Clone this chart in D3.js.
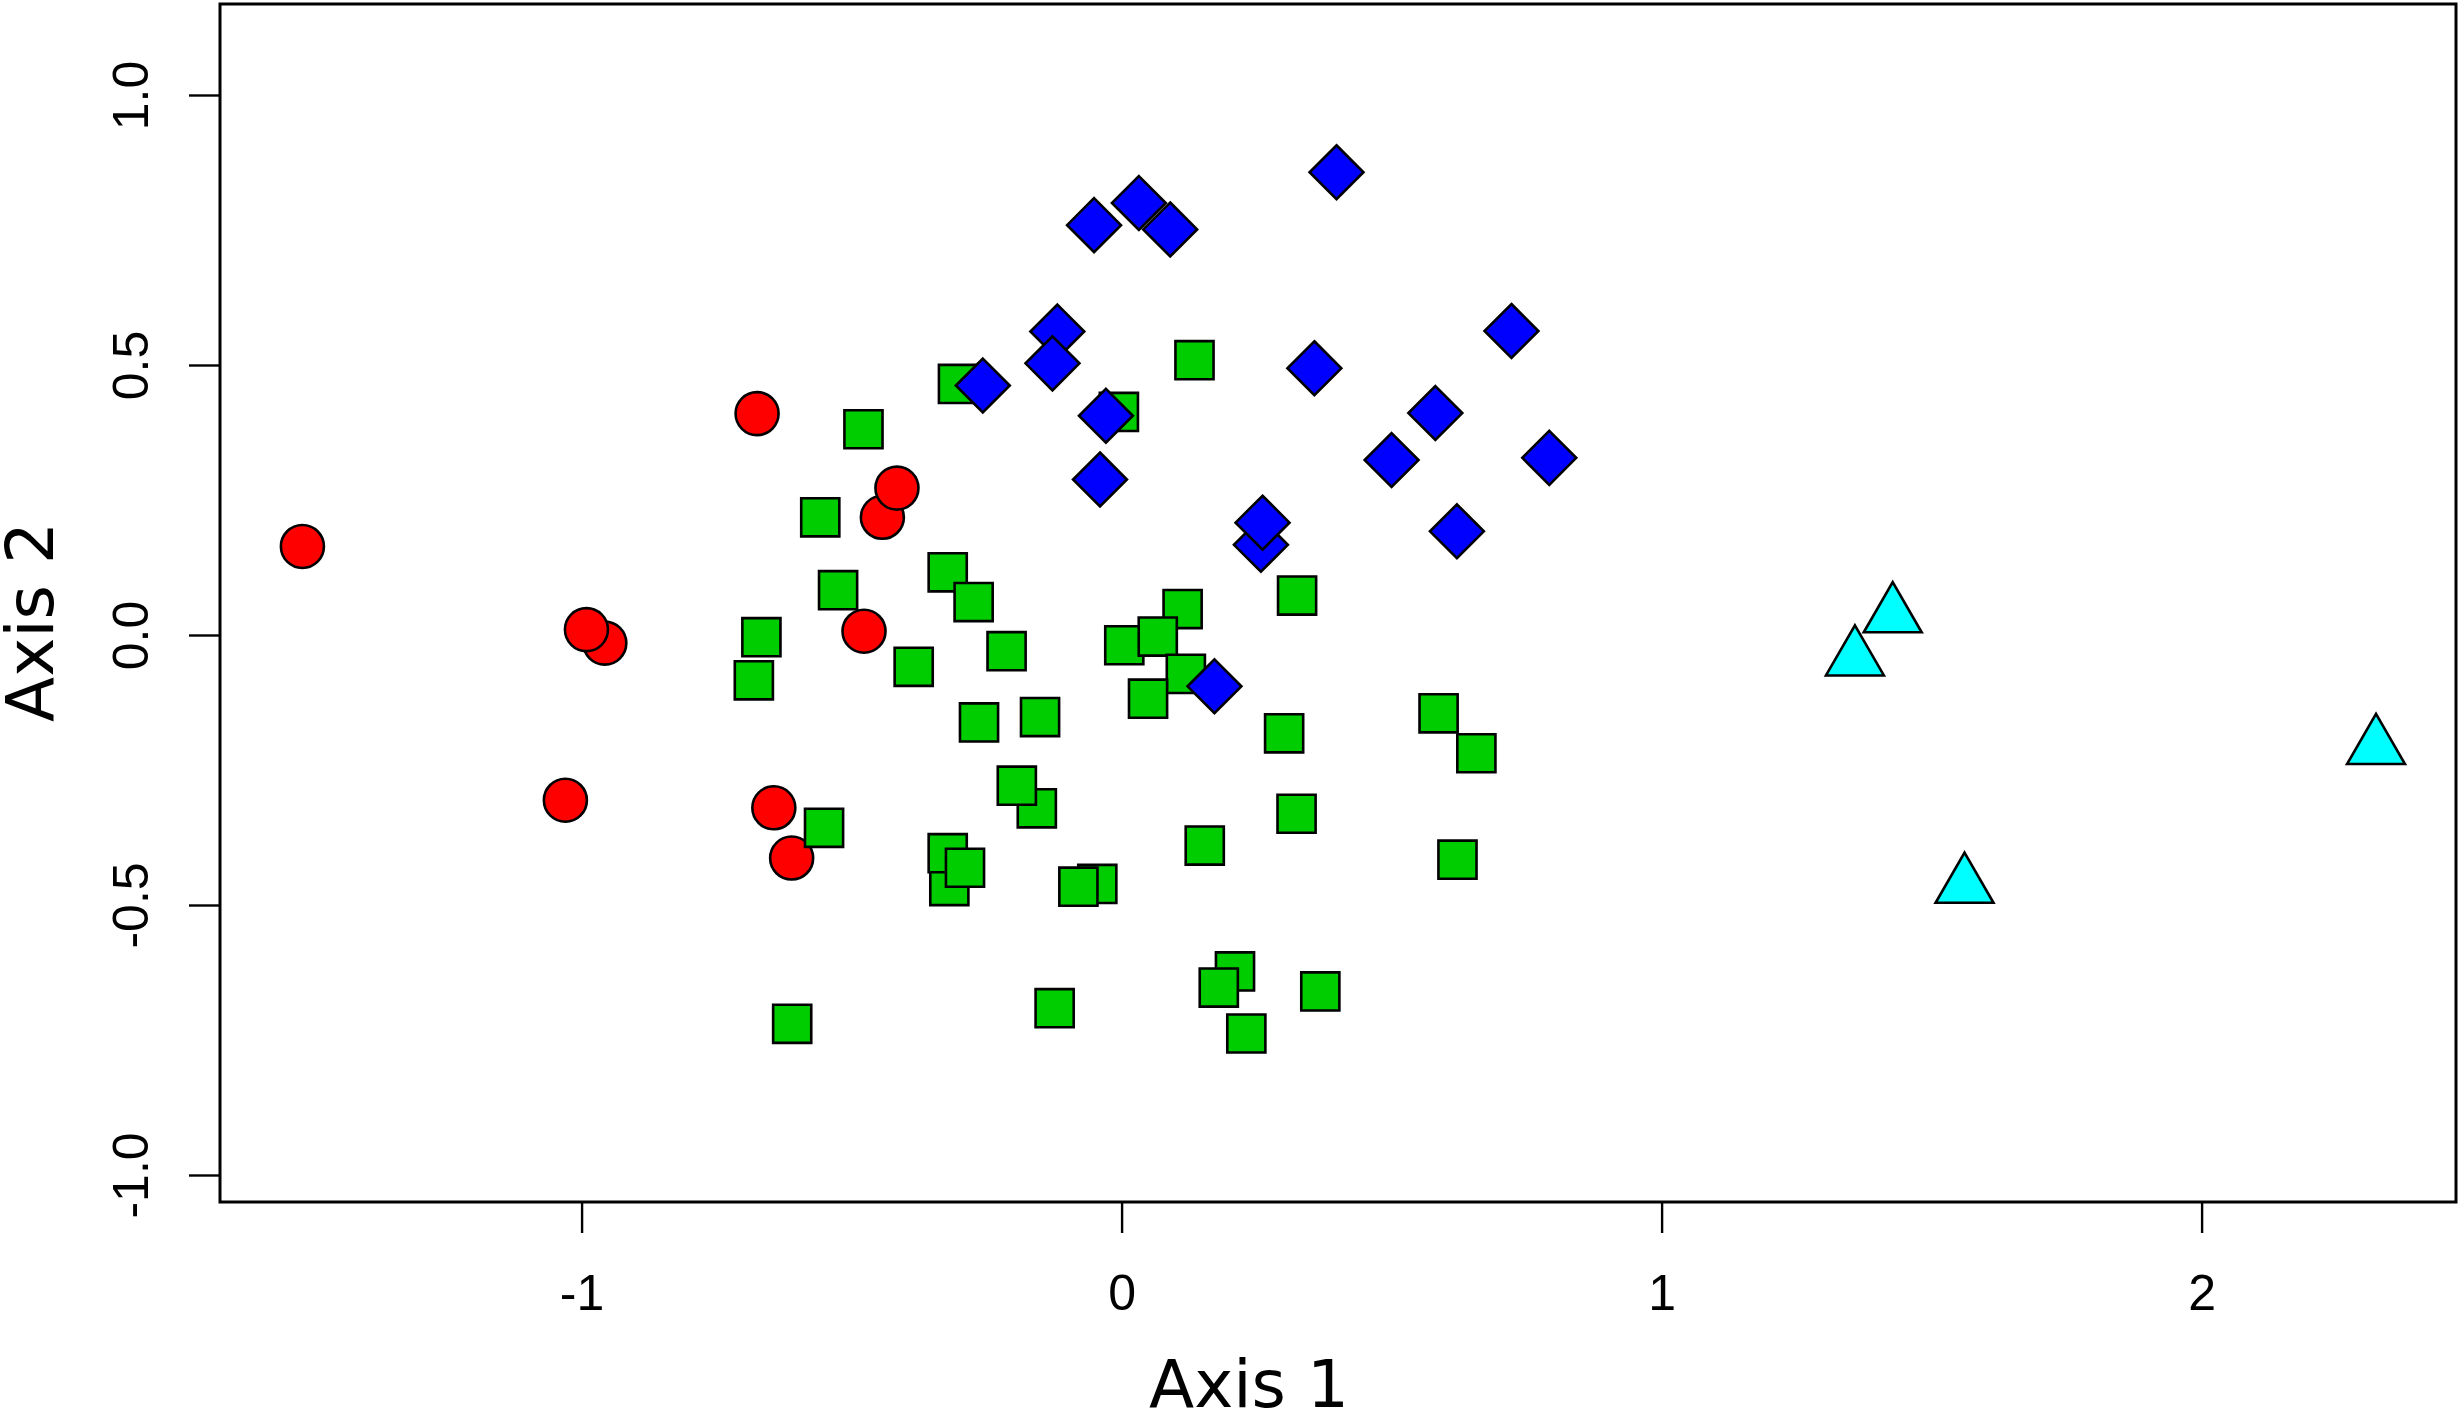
<!DOCTYPE html>
<html>
<head>
<meta charset="utf-8">
<script src="https://cdn.jsdelivr.net/npm/d3@7"></script>
<style>
  html, body { margin: 0; padding: 0; background: #ffffff; }
  svg { display: block; }
</style>
</head>
<body>
<svg id="chart"></svg>
<script>
// ---------------- data ----------------
const xTicks = [-1, 0, 1, 2];
const yTicks = [-1.0, -0.5, 0.0, 0.5, 1.0];
const xTitle = "Axis 1";
const yTitle = "Axis 2";

// group 1: red circles
const redX = [-1.517, -0.675, -0.443, -0.416, -0.957, -0.991, -0.477, -1.030, -0.644, -0.611];
const redY = [ 0.164,  0.410,  0.218,  0.272, -0.015,  0.010,  0.007, -0.306, -0.320, -0.413];

// group 2: green squares
const greenX = [-0.303, -0.478, -0.558, -0.322, -0.274, -0.525, -0.667, -0.681, -0.385, -0.213,
                -0.264, -0.151, -0.157, -0.194, -0.551, -0.319, -0.322, -0.290, -0.045, -0.080,
                -0.124, -0.610,  0.135, -0.005,  0.113,  0.005,  0.067,  0.119,  0.049,  0.325,
                 0.301,  0.587,  0.657,  0.324,  0.154,  0.622,  0.210,  0.180,  0.368,  0.231];
const greenY = [ 0.465,  0.381,  0.218,  0.116,  0.061,  0.083, -0.004, -0.084, -0.059, -0.030,
                -0.162, -0.152, -0.321, -0.279, -0.357, -0.465, -0.404, -0.431, -0.461, -0.466,
                -0.691, -0.720,  0.509,  0.413,  0.048, -0.019, -0.003, -0.072, -0.118,  0.073,
                -0.182, -0.145, -0.219, -0.331, -0.390, -0.416, -0.623, -0.653, -0.660, -0.738];

// group 3: blue diamonds
const blueX = [ 0.398, -0.051,  0.032,  0.090, -0.119, -0.128, -0.257, -0.029, -0.040,  0.357,
                0.722,  0.581,  0.500,  0.792,  0.258,  0.261,  0.621,  0.172];
const blueY = [ 0.857,  0.759,  0.800,  0.751,  0.562,  0.503,  0.462,  0.406,  0.288,  0.494,
                0.563,  0.411,  0.324,  0.328,  0.167,  0.208,  0.192, -0.095];

// group 4: cyan triangles
const cyanX = [1.428, 1.358, 2.323, 1.561];
const cyanY = [0.036, -0.044, -0.208, -0.465];

const groupNames  = ["red", "green", "blue", "cyan"];
const groupColors = ["#ff0000", "#00cd00", "#0000ff", "#00ffff"];
const groupShapes = ["circle", "square", "diamond", "triangle"];

// ---------------- layout ----------------
const W = 2461, H = 1413;
const margin = { left: 220, right: 5, top: 4, bottom: 211 };
const xDomain = [-1.6696, 2.4711];
const yDomain = [-1.05, 1.1685];

const svg = d3.select("#chart").attr("width", W).attr("height", H);

const x = d3.scaleLinear().domain(xDomain).range([margin.left, W - margin.right]);
const y = d3.scaleLinear().domain(yDomain).range([H - margin.bottom, margin.top]);

const R = 21.5;            // R pch base radius (px)
function shapePath(kind) {
  const p = d3.path();
  if (kind === "circle") {
    p.arc(0, 0, R, 0, 2 * Math.PI); p.closePath();
  } else if (kind === "square") {
    const s = R * 0.88623;
    p.rect(-s, -s, 2 * s, 2 * s);
  } else if (kind === "diamond") {
    const d = R * 1.25331;
    p.moveTo(0, -d); p.lineTo(d, 0); p.lineTo(0, d); p.lineTo(-d, 0); p.closePath();
  } else {
    const r = R * 1.55512, xc = R * 1.34677, yc = R * 0.77756;
    p.moveTo(0, -r); p.lineTo(xc, yc); p.lineTo(-xc, yc); p.closePath();
  }
  return p.toString();
}

// ---------------- points ----------------
const groups = [
  { xs: redX, ys: redY },
  { xs: greenX, ys: greenY },
  { xs: blueX, ys: blueY },
  { xs: cyanX, ys: cyanY }
];

const pts = svg.append("g").attr("class", "points");
groups.forEach((g, gi) => {
  const data = g.xs.map((v, i) => ({ x: v, y: g.ys[i] }));
  pts.append("g").attr("class", groupNames[gi])
    .selectAll("path").data(data).join("path")
    .attr("d", shapePath(groupShapes[gi]))
    .attr("transform", d => `translate(${x(d.x)},${y(d.y)})`)
    .attr("fill", groupColors[gi])
    .attr("stroke", "#000")
    .attr("stroke-width", 2.6)
    .attr("stroke-linejoin", "miter");
});

// ---------------- box ----------------
svg.append("rect")
  .attr("x", x(xDomain[0])).attr("y", y(yDomain[1]))
  .attr("width", x(xDomain[1]) - x(xDomain[0]))
  .attr("height", y(yDomain[0]) - y(yDomain[1]))
  .attr("fill", "none").attr("stroke", "#000").attr("stroke-width", 3);

// ---------------- axes ----------------
const tickFont = "'Liberation Sans', Arial, Helvetica, sans-serif";
const xAxis = svg.append("g")
  .attr("transform", `translate(0,${y(yDomain[0])})`)
  .call(d3.axisBottom(x).tickValues(xTicks).tickSize(31).tickFormat(d => String(d)));
xAxis.select(".domain").remove();
xAxis.selectAll(".tick line").attr("stroke", "#000").attr("stroke-width", 2.4);
xAxis.selectAll(".tick text")
  .attr("y", 108).attr("dy", 0)
  .attr("fill", "#000")
  .style("font-family", tickFont).style("font-size", "50px");

const yAxis = svg.append("g")
  .attr("transform", `translate(${x(xDomain[0])},0)`)
  .call(d3.axisLeft(y).tickValues(yTicks).tickSize(31).tickFormat(d => d.toFixed(1)));
yAxis.select(".domain").remove();
yAxis.selectAll(".tick line").attr("stroke", "#000").attr("stroke-width", 2.4);
yAxis.selectAll(".tick text")
  .attr("x", null).attr("dy", 0)
  .attr("text-anchor", "middle")
  .attr("transform", "translate(-72,0) rotate(-90)")
  .attr("fill", "#000")
  .style("font-family", tickFont).style("font-size", "50px");

// ---------------- titles ----------------
const titleFont = "'DejaVu Sans', Verdana, sans-serif";
svg.append("text")
  .attr("x", 1249).attr("y", 1407)
  .attr("text-anchor", "middle")
  .style("font-family", titleFont).style("font-size", "66px")
  .attr("fill", "#000")
  .text(xTitle);

svg.append("text")
  .attr("transform", "translate(53,622) rotate(-90)")
  .attr("text-anchor", "middle")
  .style("font-family", titleFont).style("font-size", "66px")
  .attr("fill", "#000")
  .text(yTitle);
</script>
</body>
</html>
